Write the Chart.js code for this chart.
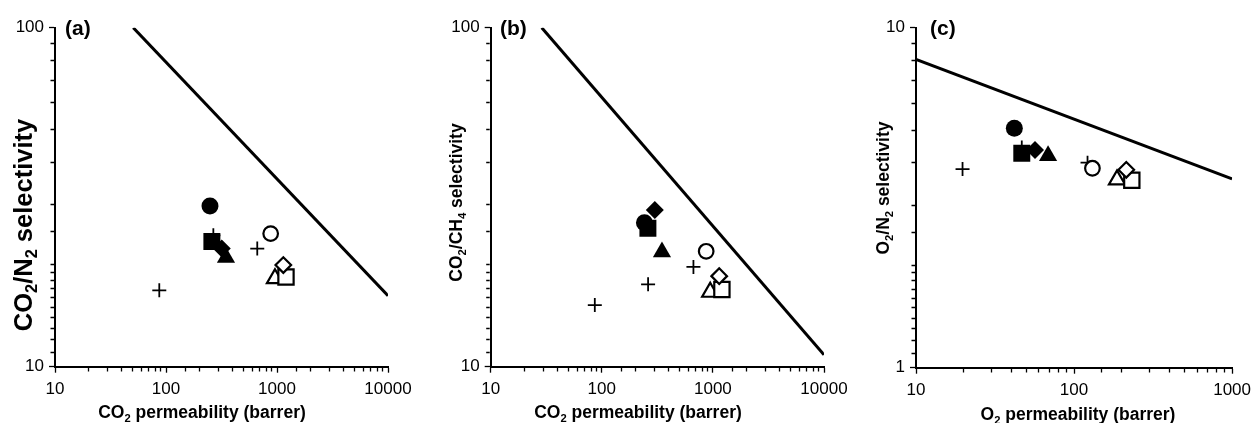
<!DOCTYPE html>
<html>
<head>
<meta charset="utf-8">
<script src="https://cdn.jsdelivr.net/npm/chart.js@4/dist/chart.umd.min.js"></script>
<style>
html,body{margin:0;padding:0;background:#fff;}
#wrap{position:relative;width:1257px;height:423px;overflow:hidden;background:#fff;}
#wrap canvas{position:absolute;left:0;top:0;}
</style>
</head>
<body>
<div id="wrap">
<canvas id="ca" width="1257" height="423" style="width:1257px;height:423px"></canvas>
<canvas id="cb" width="1257" height="423" style="width:1257px;height:423px"></canvas>
<canvas id="cc" width="1257" height="423" style="width:1257px;height:423px"></canvas>
</div>
<script>
// ---------------- DATA ----------------
// marker kinds, listed from topmost to bottom-most drawing order
const markerKinds = ['openDiamond','openSquare','openTriangle','openCircle','filledTriangle','filledDiamond','filledSquare','filledCircle'];

// Panel (a): CO2 permeability (barrer) vs CO2/N2 selectivity
const aMarkerX = [1140, 1205, 959, 877, 347, 318, 259, 249];
const aMarkerY = [19.95, 18.4, 18.2, 24.7, 21.0, 22.3, 23.4, 29.8];
const aPlusX = [87, 267, 664];
const aPlusY = [16.8, 24.4, 22.3];
const aBoundX = [50.7, 10000];
const aBoundY = [100, 16.2];
const aXRange = [10, 10000];
const aYRange = [10, 100];
const aXTickLabels = [10, 100, 1000, 10000];
const aYTickLabels = [10, 100];

// Panel (b): CO2 permeability (barrer) vs CO2/CH4 selectivity
const bMarkerX = [1140, 1205, 946, 870, 348, 300, 260, 242];
const bMarkerY = [18.5, 16.9, 16.6, 21.9, 21.8, 29.0, 25.6, 26.6];
const bPlusX = [86.5, 261, 668];
const bPlusY = [15.2, 17.5, 19.7];
const bBoundX = [28.8, 10000];
const bBoundY = [100, 10.85];
const bXRange = [10, 10000];
const bYRange = [10, 100];
const bXTickLabels = [10, 100, 1000, 10000];
const bYTickLabels = [10, 100];

// Panel (c): O2 permeability (barrer) vs O2/N2 selectivity
const cMarkerX = [214, 232, 187, 130.7, 68.5, 56.6, 46.7, 41.9];
const cMarkerY = [3.82, 3.56, 3.57, 3.86, 4.20, 4.37, 4.27, 5.06];
const cPlusX = [19.7, 46.7, 121.7];
const cPlusY = [3.84, 4.44, 4.01];
const cBoundX = [10, 1000];
const cBoundY = [8.07, 3.59];
const cXRange = [10, 1000];
const cYRange = [1, 10];
const cXTickLabels = [10, 100, 1000];
const cYTickLabels = [1, 10];

// Text (segments: [text, isSubscript])
const aXTitle = [['CO',0],['2',1],[' permeability (barrer)',0]];
const aYTitle = [['CO',0],['2',1],['/N',0],['2',1],[' selectivity',0]];
const bXTitle = [['CO',0],['2',1],[' permeability (barrer)',0]];
const bYTitle = [['CO',0],['2',1],['/CH',0],['4',1],[' selectivity',0]];
const cXTitle = [['O',0],['2',1],[' permeability (barrer)',0]];
const cYTitle = [['O',0],['2',1],['/N',0],['2',1],[' selectivity',0]];
const panelLetters = ['(a)', '(b)', '(c)'];

// ---------------- STYLE ----------------
const FAMILY = '"Liberation Sans", Arial, sans-serif';
Chart.defaults.font.family = FAMILY;
Chart.defaults.color = '#000';

const markerStyle = {
  filledCircle:   {ps:'circle',   r:8.5,  fill:'#000', bw:0},
  filledSquare:   {ps:'rect',     r:12,   fill:'#000', bw:0},
  filledDiamond:  {ps:'rectRot',  r:9,    fill:'#000', bw:0},
  filledTriangle: {ps:'triangle', r:10.5, fill:'#000', bw:0},
  openCircle:     {ps:'circle',   r:7.3,  fill:'#fff', bw:2.2},
  openSquare:     {ps:'rect',     r:10.8, fill:'#fff', bw:2.2},
  openDiamond:    {ps:'rectRot',  r:7.8,  fill:'#fff', bw:2.2},
  openTriangle:   {ps:'triangle', r:9.3,  fill:'#fff', bw:2.2}
};

function isPow10(v) {
  const l = Math.log10(v);
  return Math.abs(l - Math.round(l)) < 1e-9;
}

function drawParts(ctx, parts, size, cx, cy, rot) {
  const main = 'bold ' + size + 'px ' + FAMILY;
  const sub = 'bold ' + (size * 0.64).toFixed(2) + 'px ' + FAMILY;
  let w = 0;
  parts.forEach(p => { ctx.font = p[1] ? sub : main; w += ctx.measureText(p[0]).width; });
  ctx.save();
  ctx.translate(cx, cy);
  ctx.rotate(rot);
  ctx.fillStyle = '#000';
  ctx.textAlign = 'left';
  ctx.textBaseline = 'alphabetic';
  let x = -w / 2;
  parts.forEach(p => {
    ctx.font = p[1] ? sub : main;
    ctx.fillText(p[0], x, p[1] ? size * 0.2 : 0);
    x += ctx.measureText(p[0]).width;
  });
  ctx.restore();
}

const titlePlugin = {
  id: 'subTitles',
  afterDraw(chart, args, opts) {
    const ctx = chart.ctx;
    const P = opts.panel;
    drawParts(ctx, P.xTitle, P.xSize, P.xTitlePos[0], P.xTitlePos[1], 0);
    drawParts(ctx, P.yTitle, P.ySize, P.yTitlePos[0], P.yTitlePos[1], -Math.PI / 2);
    ctx.save();
    ctx.font = 'bold ' + P.letterSize + 'px ' + FAMILY;
    ctx.fillStyle = '#000';
    ctx.textAlign = 'left';
    ctx.textBaseline = 'alphabetic';
    ctx.fillText(P.letter, P.letterPos[0], P.letterPos[1]);
    ctx.restore();
  }
};

function makeChart(id, P) {
  const datasets = [];
  markerKinds.forEach((k, i) => {
    const s = markerStyle[k];
    datasets.push({
      label: k,
      data: [{x: P.mx[i], y: P.my[i]}],
      pointStyle: s.ps,
      pointRadius: s.r,
      pointHoverRadius: s.r,
      backgroundColor: s.fill,
      borderColor: '#000',
      borderWidth: s.bw
    });
  });
  datasets.push({
    label: 'plus',
    data: P.px.map((x, i) => ({x: x, y: P.py[i]})),
    pointStyle: 'cross',
    pointRadius: 7,
    pointHoverRadius: 7,
    borderColor: '#000',
    borderWidth: 1.8
  });
  datasets.push({
    label: 'upper bound',
    data: P.bx.map((x, i) => ({x: x, y: P.by[i]})),
    showLine: true,
    pointRadius: 0,
    pointHoverRadius: 0,
    borderColor: '#000',
    borderWidth: 3,
    fill: false
  });

  const gridOpts = (vertical) => ({
    display: true,
    drawOnChartArea: false,
    drawTicks: true,
    tickLength: 6,
    tickColor: '#000',
    tickWidth: 1.3,
    tickBorderDash: (c) => {
      if (!c.tick || isPow10(c.tick.value)) return [];
      return vertical ? [0, 1.5, 3.5, 60] : [3.5, 60];
    }
  });

  const YW = 50;
  return new Chart(document.getElementById(id), {
    type: 'scatter',
    data: {datasets: datasets},
    plugins: [titlePlugin],
    options: {
      responsive: false,
      devicePixelRatio: 1,
      animation: false,
      events: [],
      layout: {padding: {left: P.left - YW, right: 1257 - P.right, top: P.top, bottom: 0}},
      plugins: {
        legend: {display: false},
        tooltip: {enabled: false},
        subTitles: {panel: P}
      },
      scales: {
        x: {
          type: 'logarithmic',
          min: P.xr[0], max: P.xr[1],
          afterFit: (s) => { s.height = 423 - P.bottom; },
          border: {display: true, color: '#000', width: 2},
          grid: gridOpts(false),
          ticks: {
            autoSkip: false, maxRotation: 0, minRotation: 0, padding: 6,
            color: '#000', font: {size: 17},
            callback: (v) => P.xt.includes(v) ? String(v) : ''
          }
        },
        y: {
          type: 'logarithmic',
          min: P.yr[0], max: P.yr[1],
          afterFit: (s) => { s.width = YW; },
          border: {display: true, color: '#000', width: 2},
          grid: gridOpts(true),
          ticks: {
            autoSkip: false, padding: 5,
            color: '#000', font: {size: 17},
            callback: (v) => P.yt.includes(v) ? String(v) : ''
          }
        }
      }
    }
  });
}

makeChart('ca', {
  mx: aMarkerX, my: aMarkerY, px: aPlusX, py: aPlusY, bx: aBoundX, by: aBoundY,
  xr: aXRange, yr: aYRange, xt: aXTickLabels, yt: aYTickLabels,
  left: 55, right: 388, top: 27.7, bottom: 366.7,
  xTitle: aXTitle, xSize: 17.5, xTitlePos: [202, 418],
  yTitle: aYTitle, ySize: 25.5, yTitlePos: [31.5, 225],
  letter: panelLetters[0], letterSize: 21, letterPos: [65, 34.5]
});
makeChart('cb', {
  mx: bMarkerX, my: bMarkerY, px: bPlusX, py: bPlusY, bx: bBoundX, by: bBoundY,
  xr: bXRange, yr: bYRange, xt: bXTickLabels, yt: bYTickLabels,
  left: 490.7, right: 824, top: 27.7, bottom: 366.7,
  xTitle: bXTitle, xSize: 17.5, xTitlePos: [638, 418],
  yTitle: bYTitle, ySize: 17.5, yTitlePos: [462, 202.5],
  letter: panelLetters[1], letterSize: 21, letterPos: [500, 34.5]
});
makeChart('cc', {
  mx: cMarkerX, my: cMarkerY, px: cPlusX, py: cPlusY, bx: cBoundX, by: cBoundY,
  xr: cXRange, yr: cYRange, xt: cXTickLabels, yt: cYTickLabels,
  left: 916, right: 1236.7, top: 27.7, bottom: 367.7,
  xTitle: cXTitle, xSize: 17.5, xTitlePos: [1078, 420],
  yTitle: cYTitle, ySize: 17.5, yTitlePos: [889, 188],
  letter: panelLetters[2], letterSize: 21, letterPos: [930, 34.5]
});
</script>
</body>
</html>
